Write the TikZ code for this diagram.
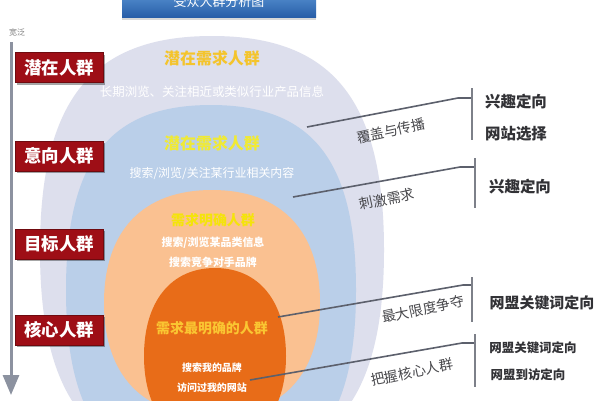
\documentclass[tikz,border=0pt]{standalone}
\usepackage{fontspec}
\setmainfont{Noto Sans CJK SC}
\usetikzlibrary{arrows.meta}
\definecolor{lavc}{RGB}{221,223,237}
\definecolor{lbluec}{RGB}{186,207,233}
\definecolor{peachc}{RGB}{250,193,145}
\definecolor{dorangec}{RGB}{232,108,24}
\definecolor{goldA}{RGB}{244,196,44}
\definecolor{yelB}{RGB}{240,234,52}
\definecolor{yelC}{RGB}{244,228,10}
\definecolor{goldD}{RGB}{250,198,50}
\definecolor{redc}{RGB}{158,14,22}
\definecolor{tbtop}{RGB}{96,156,218}
\definecolor{tbbot}{RGB}{40,94,168}
\definecolor{linec}{RGB}{92,96,108}
\definecolor{labc}{RGB}{72,72,76}
\definecolor{rtc}{RGB}{50,50,54}
\definecolor{axc}{RGB}{140,146,160}
% #1 cx, #2 cy, #3 rx, #4 ry, #5 colour, #6 control factor
\newcommand\myblob[6]{%
  \fill[#5] (#1,{#2-#4}) .. controls ({#1+#6*#3},{#2-#4}) and ({#1+#3},{#2-#6*#4}) .. ({#1+#3},#2)
   .. controls ({#1+#3},{#2+#6*#4}) and ({#1+#6*#3},{#2+#4}) .. (#1,{#2+#4})
   .. controls ({#1-#6*#3},{#2+#4}) and ({#1-#3},{#2+#6*#4}) .. ({#1-#3},#2)
   .. controls ({#1-#3},{#2-#6*#4}) and ({#1-#6*#3},{#2-#4}) .. (#1,{#2-#4}) -- cycle;}
\newcommand\fs[1]{\fontsize{#1}{#1}\selectfont}
\begin{document}
\begin{tikzpicture}[x=1bp,y=-1bp,
  redbox/.style={fill=redc, draw=redc!70!black, line width=0.6bp, text=white,
    minimum width=88bp, minimum height=30bp, inner sep=0pt, font=\bfseries\fs{17.5},
    preaction={fill=black, opacity=0.35, transform canvas={xshift=2bp,yshift=-2bp}}},
  titlebar/.style={top color=tbtop, bottom color=tbbot, text=white, minimum width=194bp,
    minimum height=30bp, inner sep=0pt, font=\fs{13},
    preaction={fill=gray, opacity=0.3, transform canvas={yshift=-3bp}}},
  head/.style={inner sep=0pt, font=\bfseries\fs{#1}},
  sub/.style={inner sep=0pt, text=white, font=\fs{#1}},
  conn/.style={draw=linec, line width=1.6bp},
  brk/.style={draw=linec!80, line width=1.6bp},
  lab/.style={inner sep=0pt, text=labc, font=\fs{14}, rotate=12},
  rt/.style={inner sep=0pt, text=rtc, font=\bfseries\fs{#1}},
]
\useasboundingbox (0,0) rectangle (600,400);
\clip (0,0) rectangle (600,400);
\fill[white] (0,0) rectangle (600,400);
% nested ellipses
\myblob{212}{250}{172}{214}{lavc}{0.7}
\myblob{211}{290}{145}{185}{lbluec}{0.7}
\myblob{212}{303}{108}{113}{peachc}{0.64}
\myblob{215}{356}{71}{88}{dorangec}{0.62}
% title
\node[titlebar] (title) at (219,2) {受众人群分析图};
\node[inner sep=0pt, text=gray, font=\fs{8}] (wide) at (17,32) {宽泛};
% axis arrow
\coordinate (ax1) at (11,42);
\coordinate (ax2) at (11,395);
\draw[axc, line width=3bp, -{Triangle[width=16bp,length=20bp]}] (ax1) -- (ax2);
% red boxes
\node[redbox] (b1) at (59,67.5) {潜在人群};
\node[redbox] (b2) at (59,156) {意向人群};
\node[redbox] (b3) at (59,244) {目标人群};
\node[redbox] (b4) at (59,330) {核心人群};
% texts in ellipses
\node[head=16, text=goldA] (h1) at (212,58) {潜在需求人群};
\node[sub=12.5] (s1) at (212,92) {长期浏览、关注相近或类似行业产品信息};
\node[head=16, text=yelB] (h2) at (212,143) {潜在需求人群};
\node[sub=12] (s2) at (212,173) {搜索/浏览/关注某行业相关内容};
\node[head=14, text=yelC] (h3) at (213,220) {需求明确人群};
\node[sub=11, font=\bfseries\fs{11}] (s3) at (213,243) {搜索/浏览某品类信息};
\node[sub=11, font=\bfseries\fs{11}] (s4) at (213,262) {搜索竞争对手品牌};
\node[head=14, text=goldD] (h4) at (212,328) {需求最明确的人群};
\node[sub=10, font=\bfseries\fs{10}] (s5) at (212,368) {搜索我的品牌};
\node[sub=10, font=\bfseries\fs{10}] (s6) at (212,388) {访问过我的网站};
% connectors
\coordinate (c1a) at (307,127); \coordinate (c1b) at (458,98);
\coordinate (k1t) at (472,88); \coordinate (k1b) at (472,140);
\draw[conn] (c1a) -- (c1b) -- (c1b -| k1t);
\draw[brk] (k1t) -- (k1b);
\coordinate (c2a) at (293,197); \coordinate (c2b) at (460,167);
\coordinate (k2t) at (475,158); \coordinate (k2b) at (475,208);
\draw[conn] (c2a) -- (c2b) -- (c2b -| k2t);
\draw[brk] (k2t) -- (k2b);
\coordinate (c3a) at (278,317); \coordinate (c3b) at (463,285);
\coordinate (k3t) at (472,277); \coordinate (k3b) at (472,322);
\draw[conn] (c3a) -- (c3b) -- (c3b -| k3t);
\draw[brk] (k3t) -- (k3b);
\coordinate (c4a) at (250,380); \coordinate (c4b) at (462,343);
\coordinate (k4t) at (475,334); \coordinate (k4b) at (475,387);
\draw[conn] (c4a) -- (c4b) -- (c4b -| k4t);
\draw[brk] (k4t) -- (k4b);
% labels
\node[lab] (l1) at (391,131) {覆盖与传播};
\node[lab] (l2) at (387,199) {刺激需求};
\node[lab] (l3) at (423,309) {最大限度争夺};
\node[lab] (l4) at (412,372) {把握核心人群};
% right texts
\node[rt=15.5] (r1) at (516,102) {兴趣定向};
\node[rt=15.5] (r2) at (516,134) {网站选择};
\node[rt=15.5] (r3) at (520,187) {兴趣定向};
\node[rt=15] (r4) at (542,303) {网盟关键词定向};
\node[rt=12.5] (r5) at (533,348) {网盟关键词定向};
\node[rt=12.5] (r6) at (528,375) {网盟到访定向};
\end{tikzpicture}
\end{document}
